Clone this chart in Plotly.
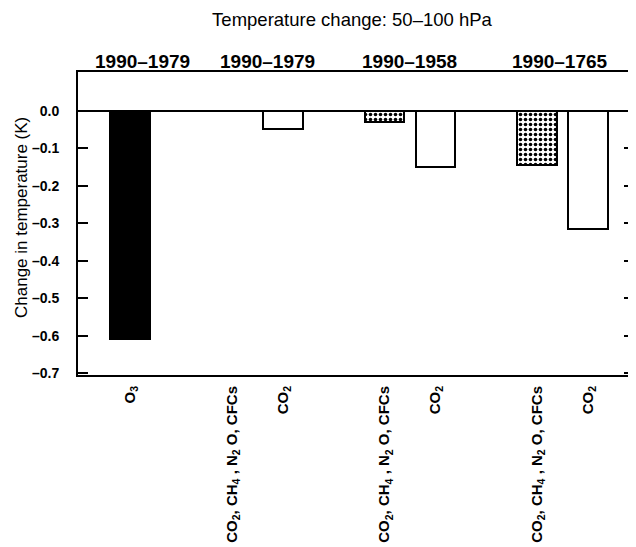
import plotly.graph_objects as go

# ---- data ----
bar_labels = [
    "O<sub>3</sub>",
    "CO<sub>2</sub>, CH<sub>4</sub> , N<sub>2</sub> O, CFCs",
    "CO<sub>2</sub>",
    "CO<sub>2</sub>, CH<sub>4</sub> , N<sub>2</sub> O, CFCs",
    "CO<sub>2</sub>",
    "CO<sub>2</sub>, CH<sub>4</sub> , N<sub>2</sub> O, CFCs",
    "CO<sub>2</sub>",
]
bar_kind = ["O3", "mix", "co2", "mix", "co2", "mix", "co2"]
temp_change = [-0.61, 0.0, -0.05, -0.03, -0.15, -0.145, -0.315]
period_labels = ["1990\u20131979", "1990\u20131979", "1990\u20131958", "1990\u20131765"]
y_ticks = [0.0, -0.1, -0.2, -0.3, -0.4, -0.5, -0.6, -0.7]

# ---- layout helpers (positions) ----
x_slots = [0, 2, 3, 5, 6, 8, 9]
period_x = [0.25, 2.7, 5.5, 8.45]

FONT = "Liberation Sans, Arial, Helvetica, sans-serif"
PAGE_OFF = 8  # browser body margin

styles = {
    "O3": dict(color="black", pattern=None),
    "mix": dict(color="white", pattern=dict(shape=".", fgcolor="black", bgcolor="white",
                                            size=5, solidity=0.4)),
    "co2": dict(color="white", pattern=None),
}

fig = go.Figure()
for kind in ["O3", "mix", "co2"]:
    xs = [x for x, k in zip(x_slots, bar_kind) if k == kind]
    ys = [v for v, k in zip(temp_change, bar_kind) if k == kind]
    st = styles[kind]
    marker = dict(color=st["color"], line=dict(color="black", width=2))
    if st["pattern"]:
        marker["pattern"] = st["pattern"]
    fig.add_trace(go.Bar(x=xs, y=ys, width=0.78, marker=marker, showlegend=False))

for px, lab in zip(period_x, period_labels):
    fig.add_annotation(x=px, xref="x", y=1, yref="paper", yanchor="middle", yshift=11,
                       text="<b>%s</b>" % lab, showarrow=False,
                       font=dict(family=FONT, size=19, color="black"))

fig.add_annotation(x=(22 - 78) / 556, xref="paper", y=(375 - 218) / 303, yref="paper",
                   text="Change in temperature (K)", textangle=-90, showarrow=False,
                   xanchor="center", yanchor="middle",
                   font=dict(family=FONT, size=17, color="black"))

fig.update_layout(
    template="none",
    width=636, height=547,
    margin=dict(l=78 - PAGE_OFF, r=10, t=72 - PAGE_OFF, b=180, autoexpand=False),
    paper_bgcolor="white", plot_bgcolor="white",
    title=dict(text="Temperature change: 50\u2013100 hPa", x=(352 - 78) / 556, xref="paper",
               xanchor="center", y=1 - (20 - PAGE_OFF) / 547, yanchor="middle",
               font=dict(family=FONT, size=18.5, color="black")),
    font=dict(family=FONT, color="black"),
    bargap=0,
)
fig.update_xaxes(
    automargin=False,
    range=[-1.02, 9.9], tickvals=x_slots, ticktext=bar_labels, tickangle=-90,
    ticks="", showline=True, linecolor="black", linewidth=2, mirror=True,
    showgrid=False, zeroline=False, ticklabelstandoff=3,
    tickfont=dict(family=FONT, size=15, color="black", weight="bold"),
)
fig.update_yaxes(
    automargin=False,
    range=[-0.705, 0.103], tickvals=y_ticks,
    ticktext=["0.0" if v == 0 else "\u2013%.1f" % abs(v) for v in y_ticks],
    ticks="inside", ticklen=10, tickwidth=1.5, tickcolor="black",
    showline=True, linecolor="black", linewidth=2, mirror="ticks",
    showgrid=False, zeroline=True, zerolinecolor="black", zerolinewidth=1.5,
    ticklabelstandoff=14,
    tickfont=dict(family=FONT, size=14, color="black", weight="bold"),
)

fig.write_html("out.html")
